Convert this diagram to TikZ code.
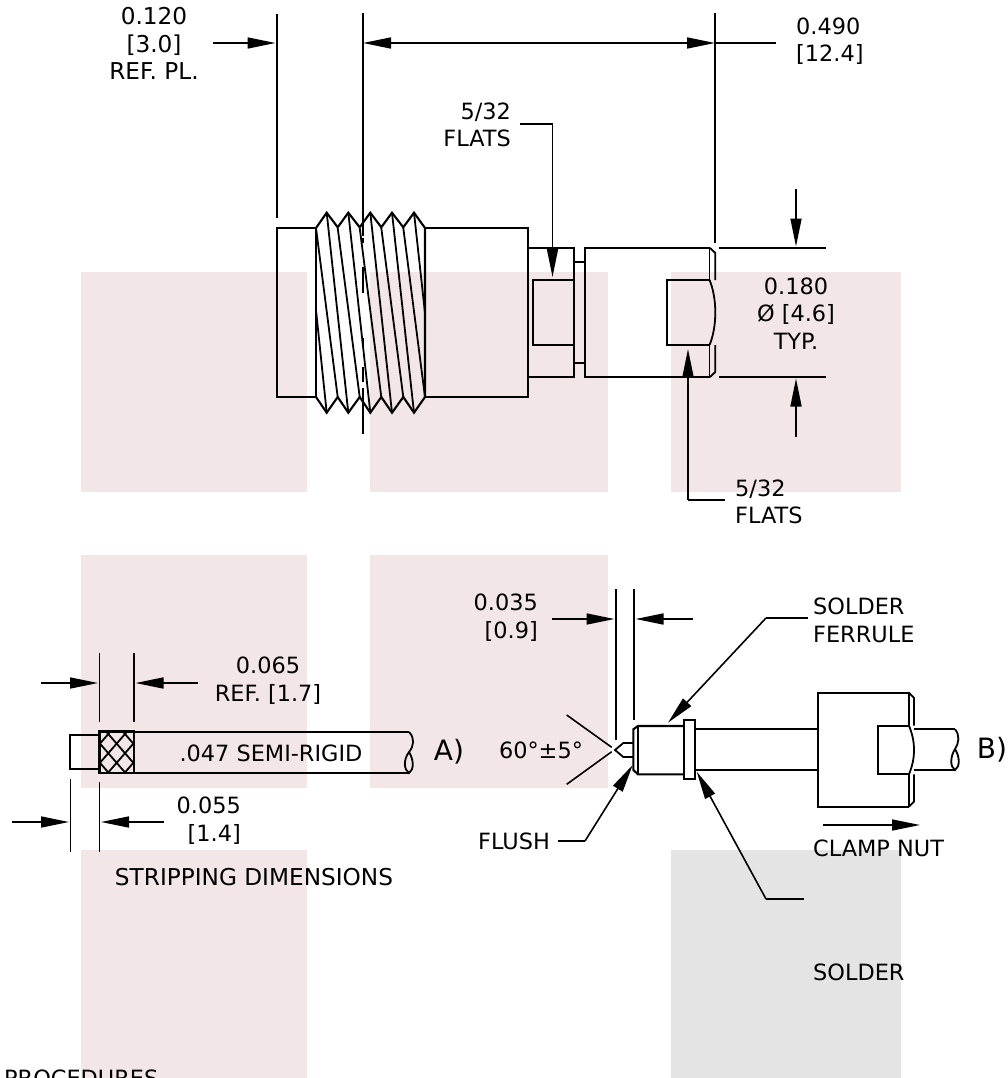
\documentclass[tikz,border=0pt]{standalone}
\usepackage{fontspec}
\setmainfont{DejaVu Sans}
\usepackage{xcolor}
\usetikzlibrary{arrows.meta}
\definecolor{pinkbg}{HTML}{F3E6E6}
\definecolor{greybg}{HTML}{E4E4E4}
\tikzset{
part/.style={line width=2.1pt,line join=miter},
thin part/.style={line width=1.8pt},
dim/.style={line width=1.6pt},
arr/.style={dim,-{Triangle[length=28pt,width=11pt]}},
lbl/.style={inner sep=0pt,font=\fontsize{22.4}{27.4}\selectfont},
wide lbl/.style={inner sep=0pt,font=\fontsize{23.2}{27.4}\selectfont},
big/.style={inner sep=0pt,font=\fontsize{28}{30}\selectfont}
}
\begin{document}
\begin{tikzpicture}[x=1pt,y=-1pt]
\useasboundingbox (0,0) rectangle (1008,1078);
% backgrounds
\foreach \xa/\ya/\xb/\yb in {81/272/307/492,370/272/608/492,671/272/901/492,81/555/307/788,370/555/608/788,81/850/307/1078}
  \fill[pinkbg] (\xa,\ya) rectangle (\xb,\yb);
\fill[greybg] (671,850) rectangle (901,1078);
% labels
\node[wide lbl,align=center] (refpl) at (154,43.5) {0.120\\{[3.0]}\\REF. PL.};
\node[lbl,align=left,anchor=west] (len) at (796,41) {0.490\\{[12.4]}};
\node[lbl,align=right,anchor=east] (flatsa) at (511,125) {5/32\\FLATS};
\node[lbl,align=left,anchor=west] (flatsb) at (735,502) {5/32\\FLATS};
\node[lbl,align=center] (dia) at (796,313.5) {0.180\\Ø [4.6]\\TYP.};
\node[lbl,align=center] (braid) at (268,680.5) {0.065\\REF. [1.7]};
\node[lbl,align=right,anchor=east] (strip) at (241,820.5) {0.055\\{[1.4]}};
\node[lbl,align=right,anchor=east] (pin) at (538,617.5) {0.035\\{[0.9]}};
\node[lbl] (semi) at (271,753) {.047 SEMI-RIGID};
\node[big] (A) at (449,752) {A)};
\node[big] (B) at (992,750) {B)};
\node[lbl] (angle) at (541,750) {60°±5°};
\node[lbl,align=left,anchor=west] (ferrule) at (813,620.5) {SOLDER\\FERRULE};
\node[lbl,anchor=west] (flush) at (478,841) {FLUSH};
\node[lbl,anchor=west] (clamp) at (813,848) {CLAMP NUT};
\node[lbl,anchor=west] (solder) at (813,972) {SOLDER};
\node[wide lbl] (stripdim) at (254,877) {STRIPPING DIMENSIONS};
\node[lbl,anchor=north west] (proc) at (4,1070) {PROCEDURES};
% connector, upper view
\draw[part] (316,228) -- (277,228) -- (277,397) -- (316,397);
\draw[part] (316,228) -- (316,397);
\draw[part] (316,228) -- (326.7,212.7) -- (337.7,227.3) -- (348.3,212.7) -- (359.7,227.3) -- (370.3,212.7) -- (381.3,227.3) -- (392,212.7) -- (403.3,227.3) -- (414,212.7) -- (425,228) -- (425,397) -- (414,412.7) -- (403.3,397) -- (392,412.7) -- (381.3,397) -- (370.3,412.7) -- (359.7,397) -- (348.3,412.7) -- (337.7,397) -- (326.7,412.7) -- (316,397);
\foreach \xa/\xb in {326.7/348.3,348.3/370.3,370.3/392,392/414}
  \draw[thin part] (\xa,212.7) -- (\xb,412.7);
\foreach \xa/\xb in {316/337.7,337.7/359.7,359.7/381.3,381.3/403.3,403.3/425}
  \draw[thin part] (\xa,228) -- (\xb,397);
\draw[thin part] (316,310) -- (326.7,412.7);
\draw[thin part] (414,212.7) -- (425,313);
\draw[part] (425,228) -- (528.3,228) -- (528.3,397) -- (425,397);
\draw[part] (528.3,248) -- (574,248) -- (574,377) -- (528.3,377);
\draw[thin part] (574,345) -- (532.7,345) -- (532.7,280) -- (574,280);
\draw[thin part] (574,262.3) -- (585,262.3);
\draw[thin part] (574,363) -- (585,363);
% nut, upper view
\draw[part] (710,248) -- (585,248) -- (585,377) -- (710,377);
\draw[thin part] (709.5,248) -- (709.5,280) -- (666.7,280) -- (666.7,345) -- (709.5,345) -- (709.5,377);
\draw[thin part] (710,248) -- (715.3,253) -- (715.3,280);
\draw[thin part] (710,377) -- (715.3,372) -- (715.3,345);
\draw[thin part] (709.5,280) .. controls (713,288) and (715.3,300) .. (715.3,312.5) .. controls (715.3,325) and (713,337) .. (709.5,345);
% centre line
\foreach \ya/\yb in {13/236,237.5/243,267/293,338/346,367/382,388/434}
  \draw[line width=2pt] (362.7,\ya) -- (362.7,\yb);
% dimensions, upper view
\coordinate (a1) at (213,43);
\coordinate (a2) at (275.5,43);
\coordinate (b1) at (363,43);
\coordinate (b2) at (715,43);
\coordinate (b3) at (776,43);
\coordinate (c1) at (277,14);
\coordinate (c2) at (277,218);
\coordinate (c3) at (715,13);
\coordinate (c4) at (715,243);
\coordinate (d1) at (719,248);
\coordinate (d2) at (826,248);
\coordinate (d3) at (719,377);
\coordinate (d4) at (826,377);
\coordinate (d5) at (796,189);
\coordinate (d6) at (796,246.5);
\coordinate (d7) at (796,437);
\coordinate (d8) at (796,378.5);
\coordinate (e1) at (520,124);
\coordinate (e2) at (552.5,124);
\coordinate (e3) at (552.5,277);
\coordinate (f1) at (725,500);
\coordinate (f2) at (688,500);
\coordinate (f3) at (688,349);
\path[dim]
(c1) edge (c2)
(c3) edge (c4)
(b2) edge (b3)
(d1) edge (d2)
(d3) edge (d4)
(e1) edge (e2)
(f1) edge (f2);
\path[arr]
(a1) edge (a2)
(d5) edge (d6)
(d7) edge (d8)
(e2) edge (e3)
(f2) edge (f3);
\draw[dim,{Triangle[length=28pt,width=11pt]}-{Triangle[length=28pt,width=11pt]}] (b1) -- (b2);
% stripped cable
\draw[thin part] (99.5,735) -- (70,735) -- (70,769.3) -- (99.5,769.3);
\begin{scope}
\clip (99.5,731.7) rectangle (134,773);
\foreach \cx in {91.6,108.3,125,141.7} {
  \draw[thin part] (\cx-20,753.2-23) -- (\cx+20,753.2+23);
  \draw[thin part] (\cx+20,753.2-23) -- (\cx-20,753.2+23);
}
\end{scope}
\draw[part,line width=2.6pt] (99.5,731.7) rectangle (134,773);
\draw[part] (134,732) -- (409,732);
\draw[part] (134,773) -- (409,773);
\draw[thin part] (409,732) .. controls (415,738) and (414,746) .. (409,752) .. controls (403,760) and (404,770) .. (409,773) .. controls (414,770) and (414,760) .. (409,752);
% dimensions, stripped cable
\coordinate (g1) at (41,683);
\coordinate (g2) at (98,683);
\coordinate (g3) at (198,683);
\coordinate (g4) at (135.5,683);
\coordinate (h1) at (99.5,653);
\coordinate (h2) at (99.5,722);
\coordinate (h3) at (134,653);
\coordinate (h4) at (134,722);
\coordinate (i1) at (12,822);
\coordinate (i2) at (69,822);
\coordinate (i3) at (164,822);
\coordinate (i4) at (101,822);
\coordinate (j1) at (70.5,779);
\coordinate (j2) at (70.5,852);
\coordinate (j3) at (99.5,782);
\coordinate (j4) at (99.5,852);
\path[dim]
(h1) edge (h2)
(h3) edge (h4)
(j1) edge (j2)
(j3) edge (j4);
\path[arr]
(g1) edge (g2)
(g3) edge (g4)
(i1) edge (i2)
(i3) edge (i4);
% assembly
\draw[thin part] (633.3,743) -- (623.3,743) -- (615,750) -- (623.3,757) -- (633.3,757);
\draw[part] (683.7,726) -- (638,726) -- (633.3,729.3) -- (633.3,770) -- (638,774.3) -- (683.7,774.3);
\draw[thin part] (638,726) -- (638,774.3);
\draw[part] (683.7,720.3) rectangle (695.3,779.3);
\draw[part] (695.3,729.3) -- (817.7,729.3);
\draw[part] (695.3,770) -- (817.7,770);
\draw[part] (909,692.7) -- (817.7,692.7) -- (817.7,806.7) -- (909,806.7);
\draw[thin part] (909,692.7) -- (909,725.7) -- (877.7,725.7) -- (877.7,774.3) -- (909,774.3) -- (909,806.7);
\draw[thin part] (909,692.7) -- (914,698) -- (914,725.7);
\draw[thin part] (909,806.7) -- (914,801.7) -- (914,774.3);
\draw[thin part] (909,725.7) .. controls (912,733) and (914,741) .. (914,750) .. controls (914,759) and (912,767) .. (909,774.3);
\draw[part] (914,729.3) -- (955,729.3);
\draw[part] (914,770) -- (955,770);
\draw[thin part] (955,729.3) .. controls (960,735) and (959,743) .. (955,749) .. controls (950,757) and (950,767) .. (955,770) .. controls (960,767) and (960,757) .. (955,749);
% dimensions, assembly
\coordinate (k1) at (616,589);
\coordinate (k2) at (616,740);
\coordinate (k3) at (634,589);
\coordinate (k4) at (634,720);
\coordinate (k5) at (552,619);
\coordinate (k6) at (614.5,619);
\coordinate (k7) at (693,619);
\coordinate (k8) at (635.5,619);
\coordinate (m1) at (566.7,715);
\coordinate (m2) at (611.7,747.3);
\coordinate (m3) at (566.7,784.3);
\coordinate (m4) at (611.7,751.7);
\coordinate (n1) at (808,618);
\coordinate (n2) at (766,618);
\coordinate (n3) at (668,722.7);
\coordinate (o1) at (558,841);
\coordinate (o2) at (585,841);
\coordinate (o3) at (632.7,765);
\coordinate (p1) at (804,899);
\coordinate (p2) at (766,899);
\coordinate (p3) at (696.7,771.7);
\coordinate (q1) at (823,825);
\coordinate (q2) at (920,825);
\path[dim]
(k1) edge (k2)
(k3) edge (k4)
(m1) edge (m2)
(m3) edge (m4)
(n1) edge (n2)
(o1) edge (o2)
(p1) edge (p2);
\path[arr]
(k5) edge (k6)
(k7) edge (k8)
(n2) edge (n3)
(o2) edge (o3)
(p2) edge (p3)
(q1) edge (q2);
\end{tikzpicture}
\end{document}
